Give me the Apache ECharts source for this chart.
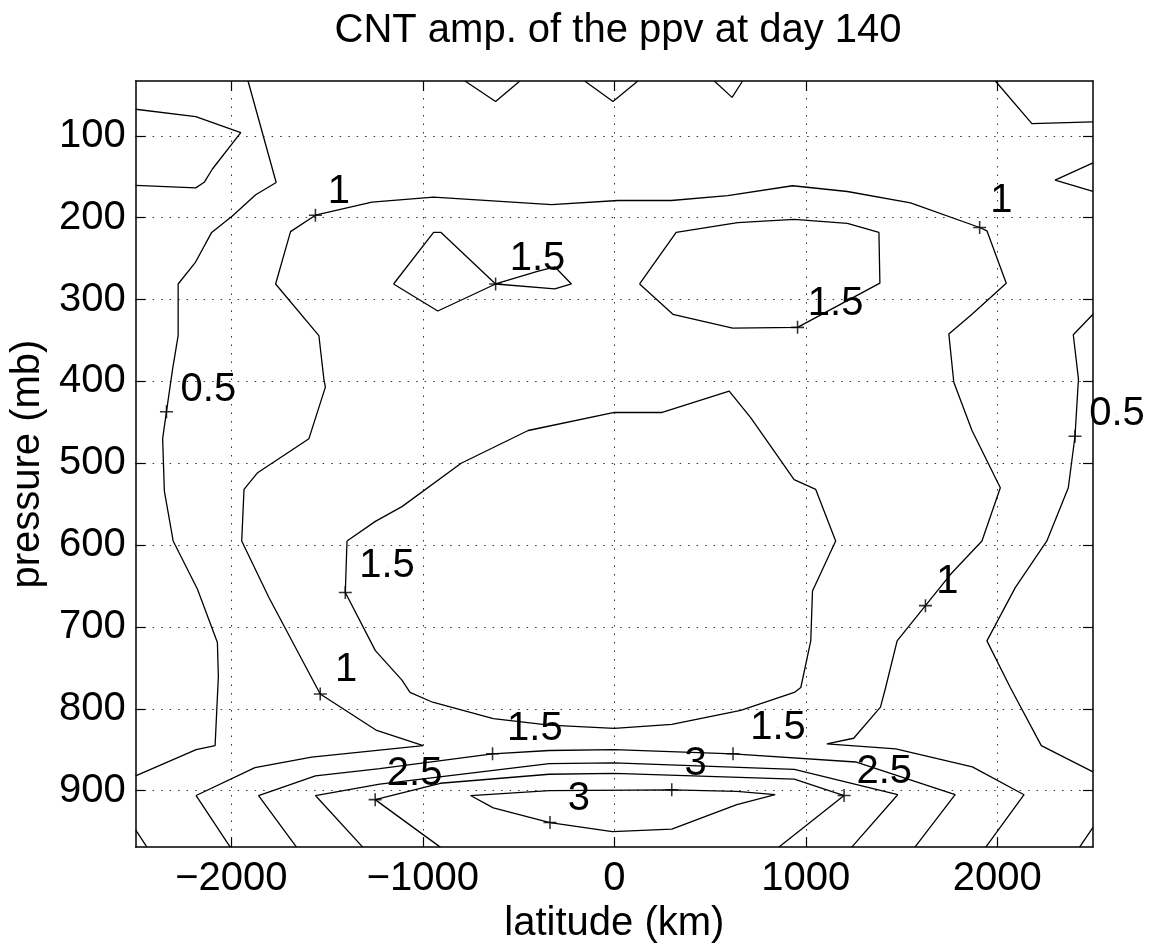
<!DOCTYPE html>
<html>
<head>
<meta charset="utf-8">
<script src="https://cdn.jsdelivr.net/npm/echarts@6/dist/echarts.min.js"></script>
<style>html,body{margin:0;padding:0;background:#fff}#c{width:1151px;height:949px}</style>
</head>
<body>
<div id="c"></div>
<script>
// ---- tick values ----
const xTicks = [-2000, -1000, 0, 1000, 2000];
const yTicks = [100, 200, 300, 400, 500, 600, 700, 800, 900];

// ---- contour polylines, [latitude km, pressure mb] ----
const c05TopLeftLobe = [[-2500,67.5],[-2186,76.5],[-1951,96],[-2099,140.5],[-2142,156.8],[-2186,163.6],[-2500,160.4]];
const c05Left = [[-1913,33],[-1766,157],[-1873,172],[-1995,198],[-2103,218],[-2189,255],[-2278,281],[-2278,344],[-2307,385],[-2339,437],[-2359,470],[-2350,534],[-2304,595],[-2177,654],[-2073,719],[-2068,761],[-2085,845],[-2184,850],[-2500,882]];
const c05BottomLeftCorner = [[-2500,948],[-2441,969]];
const cTopV1 = [[-780,33],[-620,58],[-493,33]];
const cTopV2 = [[-155,33],[-7,58],[123,33]];
const cTopV3 = [[522,33],[615,53],[670,33]];
const c05TopRight = [[1990,33],[2181,85],[2500,83]];
const c05RightNotch = [[2500,133],[2302,154],[2500,168]];
const c05Right = [[2500,318],[2397,343],[2424,397],[2406,467],[2371,530],[2259,595],[2094,652],[1946,717],[2068,774],[2230,845],[2500,877]];
const c05BottomRightCorner = [[2430,969],[2500,945]];
const c10 = [[-2006,969],[-2184,906],[-1877,872],[-1581,859],[-998,845],[-1245,826],[-1536,782],[-1804,664],[-1946,595],[-1934,532],[-1865,512],[-1595,470],[-1509,407],[-1517,397],[-1543,344],[-1769,281],[-1691,217],[-1561,197],[-1266,181],[-944,175],[-328,184],[19,179],[297,179],[592,173],[931,161],[1217,168],[1547,182],[1908,212],[1946,216],[2047,280],[1868,318],[1747,342],[1773,401],[1868,460],[2016,530],[1920,595],[1755,636],[1625,674],[1477,717],[1417,774],[1390,798],[1250,836],[1110,843],[1470,849],[1870,871],[2140,905],[1940,969]];
const c15Bowtie = [[-1153,281],[-944,218],[-905,218],[-620,281],[-406,266],[-311,260],[-224,281],[-311,287],[-620,281],[-922,314],[-1153,281]];
const c15RightLoop = [[132,281],[323,218],[644,206],[940,202],[1217,207],[1382,218],[1387,280],[957,334],[618,335],[306,318],[132,281]];
const c15Center = [[-1396,595],[-1405,658],[-1248,729],[-1109,765],[-1067,780],[-949,792],[-632,812],[-340,820],[0,824],[300,819],[660,802],[940,780],[974,774],[1026,717],[1035,656],[1156,595],[1052,532],[939,520],[714,445],[600,412],[250,438],[0,438],[-450,460],[-800,500],[-1109,553],[-1248,571],[-1396,595]];
const c15Bottom = [[-1660,969],[-1858,906],[-1561,882],[-1225,873],[-636,855],[-340,851],[0,850],[620,855],[1260,865],[1780,905],[1570,969]];
const c20 = [[-1314,969],[-1561,906],[-1225,892],[-340,867],[0,866],[940,874],[1480,905],[1240,969]];
const c25 = [[-909,969],[-1249,911],[-909,891],[-340,880],[0,879],[940,886],[1200,906],[860,969]];
const c30 = [[-751,906],[-340,900],[300,899],[640,901],[840,905],[640,917],[300,947],[-10,950],[-336,939],[-632,921],[-751,906]];

const contourLines = [c05TopLeftLobe, c05Left, c05BottomLeftCorner, cTopV1, cTopV2, cTopV3, c05TopRight, c05RightNotch, c05Right, c05BottomRightCorner, c10, c15Bowtie, c15RightLoop, c15Center, c15Bottom, c20, c25, c30];

// ---- contour label markers (+) and label texts ----
const labelMarks = [[-1561,197],[-2339,437],[-620,281],[957,334],[1908,212],[2406,467],[-1405,658],[1625,674],[-1536,782],[-636,855],[620,855],[-1249,911],[300,899],[1200,906],[-336,939]];
const labelTexts = ['1','0.5','1.5','1.5','1','0.5','1.5','1','1','1.5','1.5','2.5','3','2.5','3'];
const labelTextAt = [[-1438,168],[-2120,410],[-401,251],[1156,305],[2022,180],[2625,440],[-1187,626],[1740,645],[-1401,752],[-415,825],[855,823],[-1043,880],[425,868],[1410,877],[-185,910]];

const FONT = 'Liberation Sans, Arial, Helvetica, sans-serif';
const fmt = v => v < 0 ? '\u2212' + Math.abs(v) : String(v);
const gridLine = {show: true, lineStyle: {color: '#333', width: 1, type: [1.5, 7]}};

const series = contourLines.map(pts => ({
  type: 'line', data: pts, xAxisIndex: 0, yAxisIndex: 0,
  showSymbol: false, symbol: 'none', smooth: false, clip: true,
  lineStyle: {color: '#000', width: 1.3}, animation: false, silent: true
}));
series.push({
  type: 'scatter', data: labelMarks, xAxisIndex: 0, yAxisIndex: 0,
  symbol: 'path://M4.4,0H5.6V4.4H10V5.6H5.6V10H4.4V5.6H0V4.4H4.4Z',
  symbolSize: 13, itemStyle: {color: '#000'}, animation: false, silent: true
});
series.push({
  type: 'scatter', xAxisIndex: 0, yAxisIndex: 0, clip: false,
  data: labelTextAt.map((p, i) => ({value: p, name: labelTexts[i]})),
  symbolSize: 0.5, itemStyle: {color: '#000', opacity: 1},
  label: {show: true, position: 'inside', formatter: '{b}', color: '#000', opacity: 1,
          textBorderWidth: 0, fontSize: 40, fontFamily: FONT},
  animation: false, silent: true
});

const chart = echarts.init(document.getElementById('c'), null, {renderer: 'canvas'});
chart.setOption({
  backgroundColor: '#fff',
  animation: false,
  title: {
    text: 'CNT amp. of the ppv at day 140', left: 613, top: 6, textAlign: 'center',
    textStyle: {fontSize: 40, fontWeight: 'normal', color: '#000', fontFamily: FONT}
  },
  grid: {left: 133, right: 58, top: 81, bottom: 99, containLabel: false},
  xAxis: [{
    type: 'value', min: -2500, max: 2500, position: 'bottom',
    name: 'latitude (km)', nameLocation: 'middle', nameGap: 52,
    nameTextStyle: {fontSize: 40, color: '#000', fontFamily: FONT},
    axisLine: {show: true, onZero: false, lineStyle: {color: '#000', width: 1.5}},
    axisTick: {show: true, inside: true, length: 10, customValues: xTicks, lineStyle: {color: '#000', width: 1.2}},
    axisLabel: {show: true, customValues: xTicks, formatter: fmt, fontSize: 40, color: '#000', fontFamily: FONT, margin: 12},
    splitLine: gridLine
  }, {
    type: 'value', min: -2500, max: 2500, position: 'top',
    axisLine: {show: true, onZero: false, lineStyle: {color: '#000', width: 1.5}},
    axisTick: {show: true, inside: true, length: 10, customValues: xTicks, lineStyle: {color: '#000', width: 1.2}},
    axisLabel: {show: false}, splitLine: {show: false}
  }],
  yAxis: [{
    type: 'value', min: 33, max: 969, inverse: true, position: 'left',
    name: 'pressure (mb)', nameLocation: 'middle', nameGap: 82,
    nameTextStyle: {fontSize: 40, color: '#000', fontFamily: FONT},
    axisLine: {show: true, onZero: false, lineStyle: {color: '#000', width: 1.5}},
    axisTick: {show: true, inside: true, length: 10, customValues: yTicks, lineStyle: {color: '#000', width: 1.2}},
    axisLabel: {show: true, customValues: yTicks, fontSize: 40, color: '#000', fontFamily: FONT, margin: 10},
    splitLine: gridLine
  }, {
    type: 'value', min: 33, max: 969, inverse: true, position: 'right',
    axisLine: {show: true, onZero: false, lineStyle: {color: '#000', width: 1.5}},
    axisTick: {show: true, inside: true, length: 10, customValues: yTicks, lineStyle: {color: '#000', width: 1.2}},
    axisLabel: {show: false}, splitLine: {show: false}
  }],
  series: series
});
</script>
</body>
</html>
